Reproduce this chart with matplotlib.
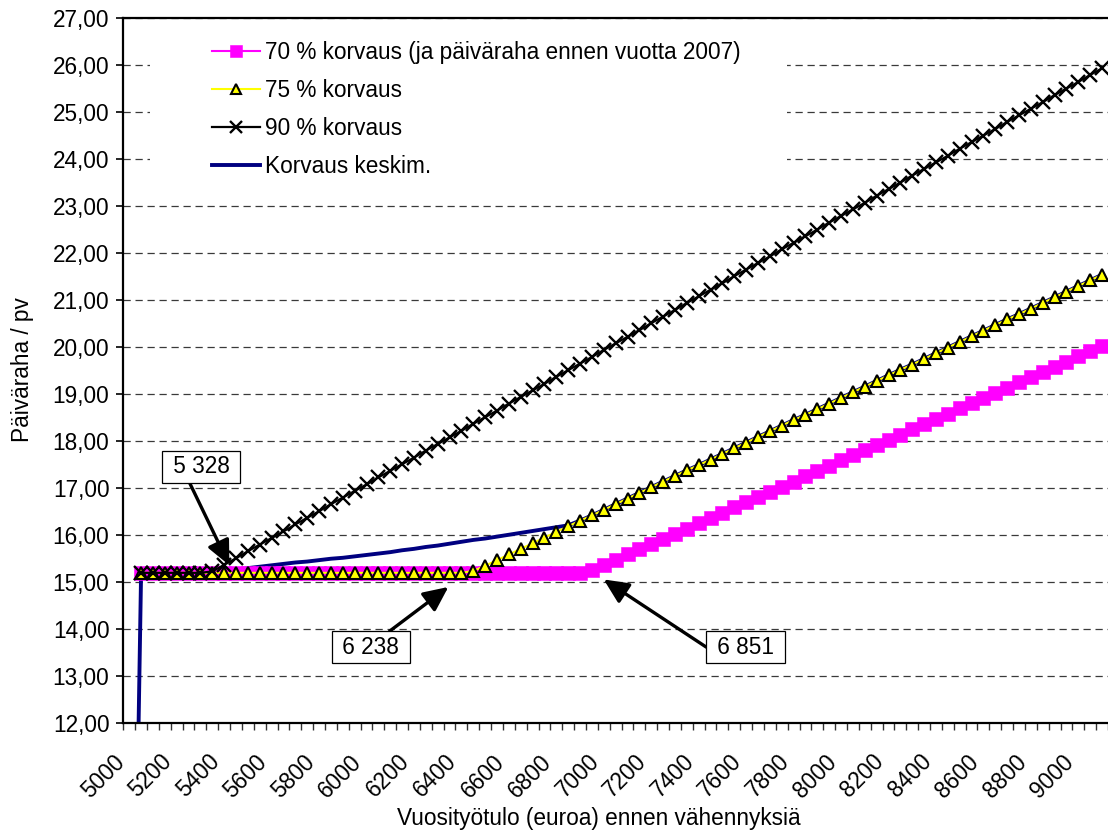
import matplotlib
matplotlib.use("Agg")
import matplotlib.pyplot as plt
from matplotlib.patches import Rectangle
import numpy as np

plt.rcParams['font.family'] = ['Liberation Sans', 'DejaVu Sans']

# ---- data -------------------------------------------------------------
income = [5000, 5050, 5100, 5150, 5200, 5250, 5300, 5350, 5400, 5450,
          5500, 5550, 5600, 5650, 5700, 5750, 5800, 5850, 5900, 5950,
          6000, 6050, 6100, 6150, 6200, 6250, 6300, 6350, 6400, 6450,
          6500, 6550, 6600, 6650, 6700, 6750, 6800, 6850, 6900, 6950,
          7000, 7050, 7100, 7150, 7200, 7250, 7300, 7350, 7400, 7450,
          7500, 7550, 7600, 7650, 7700, 7750, 7800, 7850, 7900, 7950,
          8000, 8050, 8100, 8150, 8200, 8250, 8300, 8350, 8400, 8450,
          8500, 8550, 8600, 8650, 8700, 8750, 8800, 8850, 8900, 8950,
          9000, 9050, 9100]

korvaus70 = [None] + [15.20] * 38 + [
    15.26, 15.37, 15.48, 15.59, 15.70, 15.81, 15.92, 16.03, 16.14, 16.25,
    16.37, 16.48, 16.59, 16.70, 16.81, 16.92, 17.03, 17.14, 17.25, 17.36,
    17.47, 17.59, 17.70, 17.81, 17.92, 18.03, 18.14, 18.25, 18.36, 18.47,
    18.58, 18.70, 18.81, 18.92, 19.03, 19.14, 19.25, 19.36, 19.47, 19.58,
    19.69, 19.81, 19.92, 20.03]

korvaus75 = [None] + [15.20] * 28 + [
    15.24, 15.35, 15.47, 15.59, 15.71, 15.83, 15.95, 16.07, 16.19, 16.31,
    16.42, 16.54, 16.66, 16.78, 16.90, 17.02, 17.14, 17.26, 17.38, 17.49,
    17.61, 17.73, 17.85, 17.97, 18.09, 18.21, 18.33, 18.45, 18.56, 18.68,
    18.80, 18.92, 19.04, 19.16, 19.28, 19.40, 19.52, 19.63, 19.75, 19.87,
    19.99, 20.11, 20.23, 20.35, 20.47, 20.59, 20.70, 20.82, 20.94, 21.06,
    21.18, 21.30, 21.42, 21.54]

korvaus90 = [None] + [15.20] * 6 + [
    15.23, 15.37, 15.51, 15.66, 15.80, 15.94, 16.08, 16.23, 16.37, 16.51,
    16.66, 16.80, 16.94, 17.08, 17.23, 17.37, 17.51, 17.65, 17.80, 17.94,
    18.08, 18.22, 18.37, 18.51, 18.65, 18.80, 18.94, 19.08, 19.22, 19.37,
    19.51, 19.65, 19.79, 19.94, 20.08, 20.22, 20.36, 20.51, 20.65, 20.79,
    20.94, 21.08, 21.22, 21.36, 21.51, 21.65, 21.79, 21.93, 22.08, 22.22,
    22.36, 22.50, 22.65, 22.79, 22.93, 23.07, 23.22, 23.36, 23.50, 23.65,
    23.79, 23.93, 24.07, 24.22, 24.36, 24.50, 24.64, 24.79, 24.93, 25.07,
    25.21, 25.36, 25.50, 25.64, 25.79, 25.93]

keskim = [0.00] + [15.20] * 7 + [
    15.23, 15.26, 15.30, 15.33, 15.36, 15.39, 15.42, 15.44, 15.47, 15.50,
    15.52, 15.55, 15.58, 15.61, 15.64, 15.68, 15.71, 15.75, 15.78, 15.82,
    15.86, 15.90, 15.93, 15.97, 16.01, 16.05, 16.09, 16.13, 16.17, 16.21,
    16.31, 16.42, 16.54, 16.66, 16.78, 16.90, 17.02, 17.14, 17.26, 17.38,
    17.49, 17.61, 17.73, 17.85, 17.97, 18.09, 18.21, 18.33, 18.45, 18.56,
    18.68, 18.80, 18.92, 19.04, 19.16, 19.28, 19.40, 19.52, 19.63, 19.75,
    19.87, 19.99, 20.11, 20.23, 20.35, 20.47, 20.59, 20.70, 20.82, 20.94,
    21.06, 21.18, 21.30, 21.42, 21.54]

series_labels = ["70 % korvaus (ja päiväraha ennen vuotta 2007)",
                 "75 % korvaus", "90 % korvaus", "Korvaus keskim."]

yticks = [12, 13, 14, 15, 16, 17, 18, 19, 20, 21, 22, 23, 24, 25, 26, 27]
xlabel_every = 4

# annotations: text, box centre (category index, value), arrow start, arrow tip
ann_texts = ["5 328", "6 238", "6 851"]
ann_box = [(6.07, 17.46), (20.36, 13.62), (51.94, 13.62)]
ann_start = [(5.0, 17.16), (21.95, 13.96), (48.64, 13.62)]
ann_tip = [(8.44, 15.36), (26.9, 14.90), (39.99, 15.06)]

# ---- figure -----------------------------------------------------------
W, H = 1108, 832
fig = plt.figure(figsize=(W / 100, H / 100), dpi=100)
ax_l, ax_r, ax_t, ax_b = 123.3, 1108.0, 18.0, 723.3
ax = fig.add_axes([ax_l / W, 1 - ax_b / H, (ax_r - ax_l) / W, (ax_b - ax_t) / H])

x = np.arange(len(income))


def arr(v):
    return np.array([np.nan if a is None else a for a in v], dtype=float)


FS = 16.3

l_kesk, = ax.plot(x, arr(keskim), color='#000080', lw=2.8, zorder=2,
                  solid_joinstyle='round')
l70, = ax.plot(x, arr(korvaus70), color='#FF00FF', lw=1.5, marker='s',
               ms=9.6, mfc='#FF00FF', mec='#FF00FF', mew=0.4, zorder=3)
l75, = ax.plot(x, arr(korvaus75), color='#FFFF00', lw=1.5, marker='^',
               ms=8.6, mfc='#FFFF00', mec='black', mew=1.5, zorder=4)
l90, = ax.plot(x, arr(korvaus90), color='black', lw=1.6, marker='x',
               ms=9.8, mec='black', mew=1.7, zorder=5)

ax.set_ylim(12, 27)
ax.set_xlim(-0.5, -0.5 + (ax_r - ax_l) / 12.1)

ax.set_yticks(yticks)
ax.set_yticklabels([f"{v:.2f}".replace('.', ',') for v in yticks], fontsize=FS)
ax.tick_params(axis='y', which='major', length=5, width=1.2, pad=5,
               direction='out', colors='black')

lab_pos = x[::xlabel_every][:21]
ax.set_xticks(lab_pos)
ax.set_xticklabels([str(income[i]) for i in lab_pos], fontsize=FS,
                   rotation=45, ha='right', va='bottom',
                   rotation_mode='anchor')
ax.tick_params(axis='x', which='major', length=0, pad=31)
ax.set_xticks(np.arange(len(income) + 1) - 0.5, minor=True)
ax.tick_params(axis='x', which='minor', length=5, width=1.0,
               direction='out', colors='#333333')

for s in ['left', 'bottom', 'top']:
    ax.spines[s].set_linewidth(1.6)
    ax.spines[s].set_color('black')
ax.spines['right'].set_visible(False)

ax.set_axisbelow(True)
ax.yaxis.grid(True, color='#3a3a3a', lw=0.9, linestyle=(0, (5.8, 3.8)))
ax.xaxis.grid(False)

# white area behind the legend (covers gridlines)
rx0, rx1, ry0, ry1 = 150, 787, 28, 185
axw, axh = ax_r - ax_l, ax_b - ax_t
ax.add_patch(Rectangle(((rx0 - ax_l) / axw, (ax_b - ry1) / axh),
                       (rx1 - rx0) / axw, (ry1 - ry0) / axh,
                       transform=ax.transAxes, facecolor='white',
                       edgecolor='none', zorder=1.5))

leg = ax.legend([l70, l75, l90, l_kesk], series_labels,
                loc='upper left',
                bbox_to_anchor=((212 - ax_l) / axw, (ax_b - 41) / axh),
                frameon=False, fontsize=FS, borderpad=0, borderaxespad=0,
                handlelength=2.12, handletextpad=0.2, labelspacing=0.66,
                numpoints=1, markerscale=0.85)
leg.set_zorder(6)

for t, bc, st, tp in zip(ann_texts, ann_box, ann_start, ann_tip):
    ax.annotate('', xy=tp, xytext=st, xycoords='data', textcoords='data',
                arrowprops=dict(arrowstyle='-|>,head_length=0.75,head_width=0.35',
                                mutation_scale=20, lw=2.4, color='black',
                                shrinkA=0, shrinkB=0),
                zorder=7)
    ax.text(bc[0], bc[1], ' ' + t + ' ', ha='center', va='center',
            fontsize=FS, zorder=8,
            bbox=dict(boxstyle='square,pad=0.2', facecolor='white',
                      edgecolor='black', lw=0.9))

fig.text(598.5 / W, 1 - 818 / H, "Vuosityötulo (euroa) ennen vähennyksiä",
         ha='center', va='center', fontsize=FS)
fig.text(22 / W, 1 - 370 / H, "Päiväraha / pv", ha='center', va='center',
         rotation=90, fontsize=FS)

fig.savefig("out.png", dpi=100, facecolor='white')
